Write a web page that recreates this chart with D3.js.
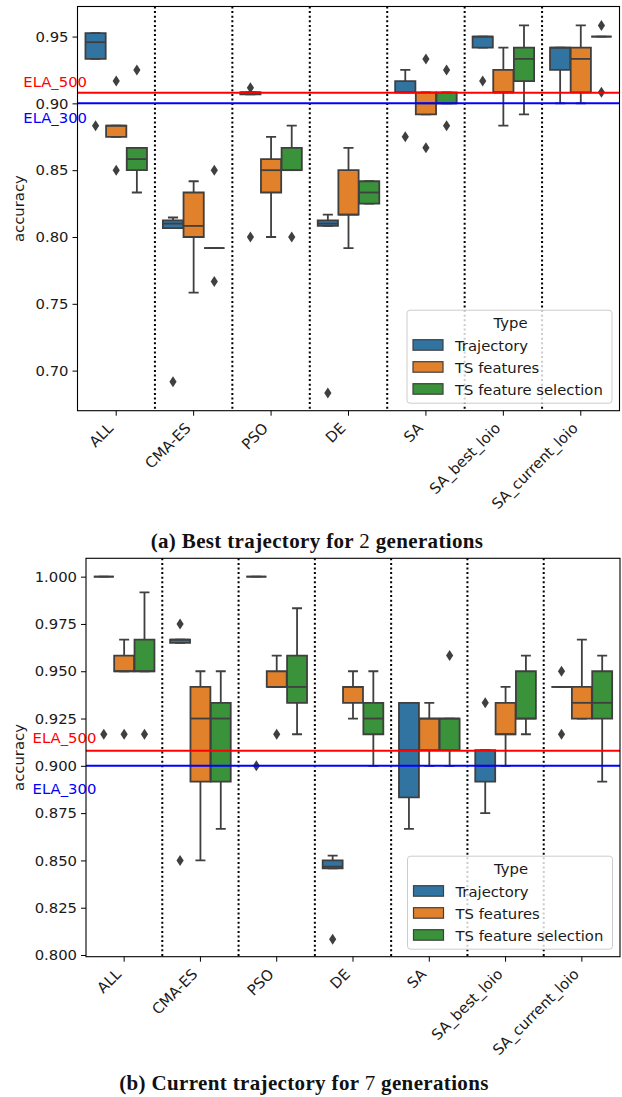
<!DOCTYPE html>
<html>
<head>
<meta charset="utf-8">
<script src="https://cdn.jsdelivr.net/npm/d3@7"></script>
<style>
  body { margin: 0; background: #fff; }
  svg { display: block; }
</style>
</head>
<body>
<div id="chart"></div>
<script>
const categories = ["ALL", "CMA-ES", "PSO", "DE", "SA", "SA_best_loio", "SA_current_loio"]
const hues = ["Trajectory", "TS features", "TS feature selection"]

// box stats per category: [whislo, q1, median, q3, whishi, outliers]
const bestTrajectory = [
  [0.9333, 0.9333, 0.9458, 0.9525, 0.9525, [0.8833]],
  [0.8067, 0.8067, 0.8100, 0.8125, 0.8146, [0.6917]],
  [0.9067, 0.9067, 0.9083, 0.9083, 0.9083, [0.9117, 0.80]],
  [0.8083, 0.8083, 0.8100, 0.8125, 0.8167, [0.6833]],
  [0.9083, 0.9083, 0.9083, 0.9167, 0.9250, [0.875]],
  [0.9417, 0.9417, 0.9500, 0.9500, 0.9500, [0.9167]],
  [0.9000, 0.9250, 0.9417, 0.9417, 0.9417, []]
]
const bestTsFeatures = [
  [0.8750, 0.8750, 0.8833, 0.8833, 0.8833, [0.9167, 0.85]],
  [0.7583, 0.8000, 0.8083, 0.8333, 0.8417, []],
  [0.8000, 0.8333, 0.8500, 0.8583, 0.8750, []],
  [0.7917, 0.8167, 0.8167, 0.8500, 0.8667, []],
  [0.8917, 0.8917, 0.9000, 0.9083, 0.9083, [0.9333, 0.8667]],
  [0.8833, 0.9083, 0.9083, 0.9250, 0.9417, []],
  [0.9000, 0.9083, 0.9333, 0.9417, 0.9583, []]
]
const bestTsSelection = [
  [0.8333, 0.8500, 0.8583, 0.8667, 0.8667, [0.925]],
  [0.7917, 0.7917, 0.7917, 0.7917, 0.7917, [0.85, 0.7667]],
  [0.8500, 0.8500, 0.8500, 0.8667, 0.8833, [0.80]],
  [0.8250, 0.8250, 0.8333, 0.8417, 0.8417, []],
  [0.9000, 0.9000, 0.9000, 0.9083, 0.9083, [0.925, 0.8833]],
  [0.8917, 0.9167, 0.9333, 0.9417, 0.9583, []],
  [0.9500, 0.9500, 0.9500, 0.9500, 0.9500, [0.9583, 0.9083]]
]

const currentTrajectory = [
  [1.0000, 1.0000, 1.0000, 1.0000, 1.0000, [0.9167]],
  [0.9650, 0.9650, 0.9667, 0.9667, 0.9667, [0.975, 0.85]],
  [1.0000, 1.0000, 1.0000, 1.0000, 1.0000, [0.90]],
  [0.8458, 0.8458, 0.8467, 0.8500, 0.8525, [0.8083]],
  [0.8667, 0.8833, 0.9083, 0.9333, 0.9333, []],
  [0.8750, 0.8917, 0.9000, 0.9083, 0.9083, [0.9333]],
  [0.9417, 0.9417, 0.9417, 0.9417, 0.9417, [0.95, 0.9167]]
]
const currentTsFeatures = [
  [0.9500, 0.9500, 0.9500, 0.9583, 0.9667, [0.9167]],
  [0.8500, 0.8917, 0.9250, 0.9417, 0.9500, []],
  [0.9417, 0.9417, 0.9417, 0.9500, 0.9583, [0.9167]],
  [0.9250, 0.9333, 0.9417, 0.9417, 0.9500, []],
  [0.9000, 0.9083, 0.9250, 0.9250, 0.9333, []],
  [0.9000, 0.9167, 0.9167, 0.9333, 0.9417, []],
  [0.9250, 0.9250, 0.9333, 0.9417, 0.9667, []]
]
const currentTsSelection = [
  [0.9500, 0.9500, 0.9500, 0.9667, 0.9917, [0.9167]],
  [0.8667, 0.8917, 0.9250, 0.9333, 0.9500, []],
  [0.9167, 0.9333, 0.9417, 0.9583, 0.9833, []],
  [0.9000, 0.9167, 0.9250, 0.9333, 0.9500, []],
  [0.9000, 0.9083, 0.9250, 0.9250, 0.9250, [0.9583]],
  [0.9167, 0.9250, 0.9250, 0.9500, 0.9583, []],
  [0.8917, 0.9250, 0.9333, 0.9500, 0.9583, []]
]

const bestTicks = [0.70, 0.75, 0.80, 0.85, 0.90, 0.95]
const currentTicks = [0.800, 0.825, 0.850, 0.875, 0.900, 0.925, 0.950, 0.975, 1.000]

const elaNames = ["ELA_500", "ELA_300"]
const elaValues = [0.908, 0.900]
const elaLabelValues = [0.912, 0.885]

const COLORS = ["#3274a1", "#e1812c", "#3a923a"]
const ELA_COLORS = ["#ff0000", "#0000ff"]
const LINE = "#3f3f3f"
const FONT = "'DejaVu Sans', sans-serif"
const FS = 14.8

const svg = d3.select("#chart").append("svg")
  .attr("width", 622)
  .attr("height", 1097)

function drawPanel(p) {
  const g = svg.append("g")

  const x = d3.scaleBand()
    .domain(categories)
    .range([p.left, p.right])
    .padding(0)
  const step = x.step()
  const hueX = d3.scaleBand()
    .domain(hues)
    .range([-0.4 * step, 0.4 * step])
  const boxW = hueX.bandwidth() * 0.98

  const y = d3.scaleLinear()
    .domain(p.domain)
    .range([p.bottom, p.top])

  // dotted separators between categories
  g.selectAll(".sep")
    .data(categories.slice(1))
    .enter().append("line")
    .attr("x1", d => x(d)).attr("x2", d => x(d))
    .attr("y1", p.top).attr("y2", p.bottom)
    .attr("stroke", "#000")
    .attr("stroke-width", 2)
    .attr("stroke-dasharray", "2,2.6")

  // boxes
  p.series.forEach((series, hi) => {
    series.forEach((s, ci) => {
      const cx = x(categories[ci]) + step / 2 + hueX(hues[hi]) + hueX.bandwidth() / 2
      const [wlo, q1, med, q3, whi, fliers] = s
      const x0 = cx - boxW / 2, x1 = cx + boxW / 2
      const capW = boxW / 4

      g.append("path")
        .attr("d", `M${cx},${y(q1)}V${y(wlo)}M${cx - capW},${y(wlo)}H${cx + capW}` +
                   `M${cx},${y(q3)}V${y(whi)}M${cx - capW},${y(whi)}H${cx + capW}`)
        .attr("stroke", LINE)
        .attr("stroke-width", 1.8)
        .attr("fill", "none")

      g.append("path")
        .attr("d", `M${x0},${y(q1)}H${x1}V${y(q3)}H${x0}Z`)
        .attr("fill", COLORS[hi])
        .attr("stroke", LINE)
        .attr("stroke-width", 1.8)

      g.append("line")
        .attr("x1", x0).attr("x2", x1)
        .attr("y1", y(med)).attr("y2", y(med))
        .attr("stroke", LINE)
        .attr("stroke-width", 1.8)

      g.selectAll(null)
        .data(fliers)
        .enter().append("path")
        .attr("d", d => `M${cx},${y(d) - 5.5}L${cx + 3.6},${y(d)}L${cx},${y(d) + 5.5}L${cx - 3.6},${y(d)}Z`)
        .attr("fill", LINE)
    })
  })

  // ELA reference lines
  elaValues.forEach((v, i) => {
    g.append("line")
      .attr("x1", p.left).attr("x2", p.right)
      .attr("y1", y(v)).attr("y2", y(v))
      .attr("stroke", ELA_COLORS[i])
      .attr("stroke-width", 2)
    g.append("text")
      .attr("x", p.left - 0.7 * step)
      .attr("y", y(elaLabelValues[i]))
      .attr("fill", ELA_COLORS[i])
      .attr("font-family", FONT)
      .attr("font-size", FS)
      .text(elaNames[i])
  })

  // axes
  const yAxis = d3.axisLeft(y)
    .tickValues(p.ticks)
    .tickFormat(p.tickFormat)
    .tickSize(5)
    .tickPadding(4)
  const ya = g.append("g")
    .attr("transform", `translate(${p.left},0)`)
    .call(yAxis)
  ya.select(".domain").remove()
  ya.selectAll("text").attr("font-family", FONT).attr("font-size", FS).attr("fill", "#1a1a1a")
  ya.selectAll("line").attr("stroke", "#000")

  const xAxis = d3.axisBottom(x).tickSize(5).tickSizeOuter(0)
  const xa = g.append("g")
    .attr("transform", `translate(0,${p.bottom})`)
    .call(xAxis)
  xa.select(".domain").remove()
  xa.selectAll("line").attr("stroke", "#000")
  xa.selectAll(".tick text")
    .attr("font-family", FONT)
    .attr("font-size", FS)
    .attr("fill", "#1a1a1a")
    .attr("text-anchor", "end")
    .attr("x", 0).attr("y", 0).attr("dy", 0)
    .attr("transform", "translate(-2,18.5) rotate(-45)")

  // frame
  g.append("rect")
    .attr("x", p.left).attr("y", p.top)
    .attr("width", p.right - p.left).attr("height", p.bottom - p.top)
    .attr("fill", "none")
    .attr("stroke", "#000")
    .attr("stroke-width", 1.1)

  // y label
  g.append("text")
    .attr("transform", `translate(${p.labelX},${(p.top + p.bottom) / 2}) rotate(-90)`)
    .attr("text-anchor", "middle")
    .attr("font-family", FONT)
    .attr("font-size", FS)
    .attr("fill", "#1a1a1a")
    .text("accuracy")

  // legend
  const lw = 205, lh = 93
  const lx = p.right - 7.5 - lw, ly = p.bottom - 7.5 - lh
  const leg = g.append("g").attr("transform", `translate(${lx},${ly})`)
  leg.append("rect")
    .attr("width", lw).attr("height", lh)
    .attr("rx", 3)
    .attr("fill", "#fff").attr("fill-opacity", 0.8)
    .attr("stroke", "#cccccc")
  leg.append("text")
    .attr("x", lw / 2 + 1).attr("y", 18)
    .attr("text-anchor", "middle")
    .attr("font-family", FONT).attr("font-size", FS).attr("fill", "#1a1a1a")
    .text("Type")
  hues.forEach((h, i) => {
    leg.append("rect")
      .attr("x", 6).attr("y", 29.5 + i * 22)
      .attr("width", 30).attr("height", 10.5)
      .attr("fill", COLORS[i])
      .attr("stroke", LINE).attr("stroke-width", 1.2)
    leg.append("text")
      .attr("x", 48).attr("y", 40.5 + i * 22)
      .attr("font-family", FONT).attr("font-size", FS).attr("fill", "#1a1a1a")
      .text(h)
  })

  // caption
  const cap = svg.append("text")
    .attr("x", p.captionX).attr("y", p.captionY)
    .attr("text-anchor", "middle")
    .attr("font-family", "'Liberation Serif', 'DejaVu Serif', serif")
    .attr("font-weight", "bold")
    .attr("font-size", 21)
    .attr("letter-spacing", 0.35)
    .attr("fill", "#111")
  cap.append("tspan").text(p.caption[0])
  cap.append("tspan").attr("font-weight", "normal").text(p.caption[1])
  cap.append("tspan").text(p.caption[2])
}

drawPanel({
  left: 77.5, right: 619.5, top: 6.5, bottom: 410.7,
  domain: [0.6700, 0.9725],
  ticks: bestTicks,
  tickFormat: d3.format(".2f"),
  series: [bestTrajectory, bestTsFeatures, bestTsSelection],
  labelX: 24,
  caption: ["(a) Best trajectory for ", "2", " generations"],
  captionX: 317, captionY: 548
})

drawPanel({
  left: 86, right: 620, top: 558.3, bottom: 956.7,
  domain: [0.7991, 1.0097],
  ticks: currentTicks,
  tickFormat: d3.format(".3f"),
  series: [currentTrajectory, currentTsFeatures, currentTsSelection],
  labelX: 24,
  caption: ["(b) Current trajectory for ", "7", " generations"],
  captionX: 304, captionY: 1090
})
</script>
</body>
</html>
